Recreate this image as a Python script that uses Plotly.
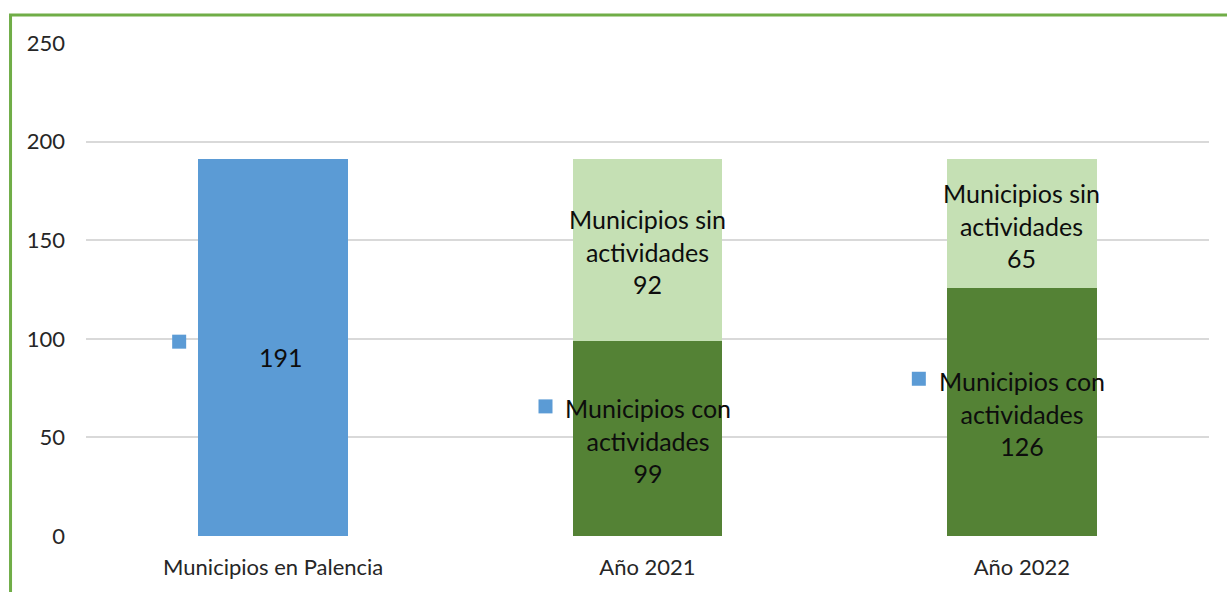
import plotly.graph_objects as go

categories = ["Municipios en Palencia", "Año 2021", "Año 2022"]
total_values = [191, None, None]
con_values = [None, 99, 126]
sin_values = [None, 92, 65]
name_con = "Municipios con<br>actividades"
name_sin = "Municipios sin<br>actividades"

BLUE = "#5B9BD5"
DARK_GREEN = "#548235"
LIGHT_GREEN = "#C5E0B4"
FONT = "Lato"

fig = go.Figure()
fig.add_trace(go.Bar(x=categories, y=total_values, marker=dict(color=BLUE, line=dict(width=0)),
                     hoverinfo="skip", showlegend=False))
fig.add_trace(go.Bar(x=categories, y=con_values, marker=dict(color=DARK_GREEN, line=dict(width=0)),
                     hoverinfo="skip", showlegend=False))
fig.add_trace(go.Bar(x=categories, y=sin_values, marker=dict(color=LIGHT_GREEN, line=dict(width=0)),
                     hoverinfo="skip", showlegend=False))

annotations = []
shapes = []

def add_label(idx, y_mid, text, yshift, xshift=0, key=None):
    annotations.append(dict(x=categories[idx], y=y_mid, xref="x", yref="y", text=text,
                            showarrow=False, yshift=yshift, xshift=xshift, align="center",
                            font=dict(family=FONT, size=25, color="#0D0D0D")))
    if key is not None:
        dx, dy = key
        shapes.append(dict(type="rect", xref="x", yref="y", xsizemode="pixel", ysizemode="pixel",
                           xanchor=idx, yanchor=y_mid,
                           x0=dx - 7, x1=dx + 7, y0=dy - 7, y1=dy + 7,
                           fillcolor=BLUE, line=dict(width=0)))

v = total_values[0]
add_label(0, v / 2, str(v), -9, xshift=8, key=(-94, 6))
for i in (1, 2):
    c = con_values[i]
    s = sin_values[i]
    add_label(i, c / 2, f"{name_con}<br>{c}", -2, key=(-102 if i == 1 else -103, 32 if i == 1 else 33))
    add_label(i, c + s / 2, f"{name_sin}<br>{s}", -1 if i == 1 else -2)

shapes.append(dict(type="rect", xref="paper", yref="paper",
                   x0=-0.0672, x1=1.3, y0=-0.4, y1=1.0568,
                   line=dict(color="#70AD47", width=3), fillcolor="rgba(0,0,0,0)", layer="above"))

fig.update_layout(
    width=1227, height=592,
    margin=dict(l=86, r=18, t=43, b=56),
    paper_bgcolor="white", plot_bgcolor="white",
    barmode="stack", bargap=0.6,
    annotations=annotations, shapes=shapes,
    font=dict(family=FONT, color="#595959"),
)
fig.update_xaxes(type="category", showgrid=False, showline=False, zeroline=False,
                 tickfont=dict(family=FONT, size=22, color="#262626"), ticks="", ticklabelstandoff=16)
fig.update_yaxes(range=[0, 250], dtick=50, showgrid=True, gridcolor="#D9D9D9", gridwidth=1.5,
                 zeroline=False, showline=False, ticks="",
                 tickfont=dict(family=FONT, size=22, color="#262626"), ticklabelstandoff=20)

fig.write_html("out.html", config={"displayModeBar": False},
               post_script="document.body.style.margin='0';document.body.style.overflow='hidden';")
